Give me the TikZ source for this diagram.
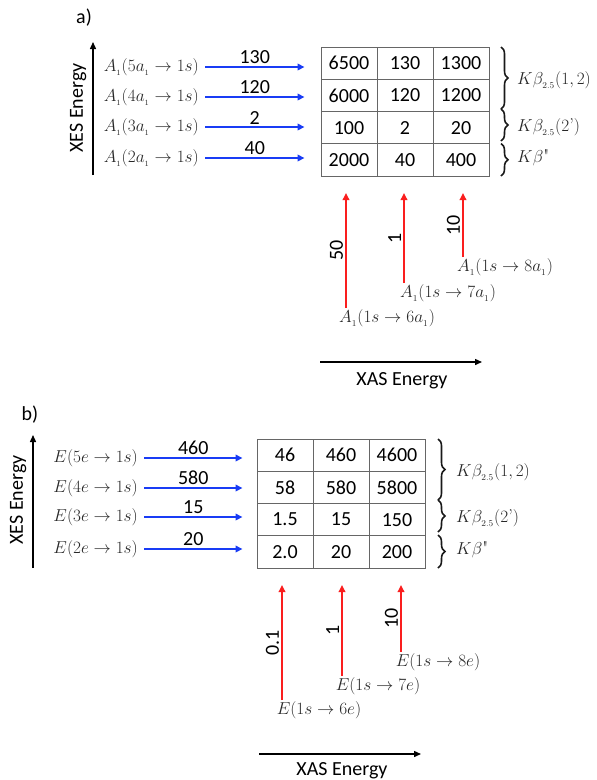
\documentclass[tikz,border=0pt]{standalone}
\usepackage{fontspec}
\setsansfont{Carlito}
\usetikzlibrary{arrows.meta,decorations.pathreplacing}
\definecolor{arrblue}{RGB}{25,60,245}
\definecolor{arrred}{RGB}{250,30,30}
\definecolor{mathgray}{RGB}{40,40,40}
\begin{document}
\begin{tikzpicture}[x=1pt,y=-1pt,
  num/.style={font=\sffamily\fontsize{20}{24}\selectfont, inner sep=2pt},
  cell/.style={draw=black!60, line width=0.9pt, minimum width=56pt, minimum height=32.25pt, inner sep=0pt, font=\sffamily\fontsize{20}{24}\selectfont},
  rowlabA/.style={text=mathgray, inner sep=0pt, anchor=east, font=\fontsize{16.5}{20}\selectfont},
  rowlabB/.style={text=mathgray, inner sep=0pt, anchor=east, font=\fontsize{18}{22}\selectfont},
  srclab/.style={text=mathgray, inner sep=1pt, font=\fontsize{18.5}{22}\selectfont},
  klab/.style={text=mathgray, inner sep=0pt, anchor=west, font=\fontsize{18.5}{22}\selectfont},
  bluearr/.style={draw=arrblue, line width=1.8pt, -{Triangle[length=7pt,width=6.5pt]}},
  redarr/.style={draw=arrred, line width=1.8pt, -{Triangle[length=7pt,width=6.5pt]}},
  axis/.style={draw=black, line width=1.4pt, -{Triangle[length=7pt,width=6pt]}},
  kbrace/.style={draw=black!90, line width=1.6pt, decorate, decoration={brace, amplitude=7pt}},
  axlab/.style={font=\sffamily\fontsize{20}{24}\selectfont, inner sep=0pt},
]
\useasboundingbox (0,0) rectangle (597,780);

% ================= panel a =================
\node[axlab] (pa) at (84,18) {a)};
\coordinate (xesAbot) at (93,175);
\coordinate (xesAtop) at (93,42);
\draw[axis] (xesAbot) -- (xesAtop);
\node[axlab, rotate=90] (xesAlab) at (78,108) {XES Energy};

% table a
\foreach \r/\y in {1/63.1,2/95.4,3/127.6,4/159.9}{
  \foreach \c/\x in {1/349,2/405,3/461}{
    \node[cell] (ta\r\c) at (\x,\y) {};
  }
}
\node[num] at (ta11) {6500}; \node[num] at (ta12) {130}; \node[num] at (ta13) {1300};
\node[num] at (ta21) {6000}; \node[num] at (ta22) {120}; \node[num] at (ta23) {1200};
\node[num] at (ta31) {100};  \node[num] at (ta32) {2};   \node[num] at (ta33) {20};
\node[num] at (ta41) {2000}; \node[num] at (ta42) {40};  \node[num] at (ta43) {400};

% row labels a
\node[rowlabA] (ra1) at (199,67)  {$A_{_1}(5a_{_1}\rightarrow 1s)$};
\node[rowlabA] (ra2) at (199,97)  {$A_{_1}(4a_{_1}\rightarrow 1s)$};
\node[rowlabA] (ra3) at (199,127) {$A_{_1}(3a_{_1}\rightarrow 1s)$};
\node[rowlabA] (ra4) at (199,158) {$A_{_1}(2a_{_1}\rightarrow 1s)$};
\draw[bluearr] ([xshift=6pt]ra1.east) -- ([xshift=-16pt]ra1.east -| ta11.west) node[num, midway, above] {130};
\draw[bluearr] ([xshift=6pt]ra2.east) -- ([xshift=-16pt]ra2.east -| ta21.west) node[num, midway, above] {120};
\draw[bluearr] ([xshift=6pt]ra3.east) -- ([xshift=-16pt]ra3.east -| ta31.west) node[num, midway, above] {2};
\draw[bluearr] ([xshift=6pt]ra4.east) -- ([xshift=-16pt]ra4.east -| ta41.west) node[num, midway, above] {40};

% braces a
\coordinate (ba0) at (501,47);
\coordinate (ba1) at (501,109);
\coordinate (ba2) at (501,141);
\coordinate (ba3) at (501,143.5);
\coordinate (ba4) at (501,176);
\draw[kbrace] (ba0) -- (ba1);
\draw[kbrace] (ba1) -- (ba2);
\draw[kbrace] (ba3) -- (ba4);
\node[klab] (ka1) at (517,80)  {$K\beta_{_{2.5}}(1,2)$};
\node[klab] (ka2) at (517,127) {$K\beta_{_{2.5}}(2\mbox{'})$};
\node[klab] (ka3) at (517,158) {$K\beta$\textquotedbl};

% source labels a
\node[srclab] (sa1) at (387,318) {$A_{_1}(1s\rightarrow 6a_{_1})$};
\node[srclab] (sa2) at (448,293) {$A_{_1}(1s\rightarrow 7a_{_1})$};
\node[srclab] (sa3) at (505,267) {$A_{_1}(1s\rightarrow 8a_{_1})$};
\coordinate (pa1) at (346,193);
\coordinate (pa2) at (404,193);
\coordinate (pa3) at (463,193);
\draw[redarr] (sa1.north -| pa1) -- (pa1) node[num, midway, rotate=90, anchor=south] {50};
\draw[redarr] (sa2.north -| pa2) -- (pa2) node[num, midway, rotate=90, anchor=south] {1};
\draw[redarr] (sa3.north -| pa3) -- (pa3) node[num, midway, rotate=90, anchor=south] {10};

\coordinate (xasAl) at (320,362);
\coordinate (xasAr) at (482,362);
\draw[axis] (xasAl) -- (xasAr);
\node[axlab, anchor=north] (xasAlab) at (402,372) {XAS Energy};

% ================= panel b =================
\node[axlab] (pb) at (30,415) {b)};
\coordinate (xesBbot) at (33,568);
\coordinate (xesBtop) at (33,435);
\draw[axis] (xesBbot) -- (xesBtop);
\node[axlab, rotate=90] (xesBlab) at (18,500) {XES Energy};

% table b
\foreach \r/\y in {1/455.1,2/487.4,3/519.6,4/551.9}{
  \foreach \c/\x in {1/285,2/341,3/397}{
    \node[cell] (tb\r\c) at (\x,\y) {};
  }
}
\node[num] at (tb11) {46};  \node[num] at (tb12) {460}; \node[num] at (tb13) {4600};
\node[num] at (tb21) {58};  \node[num] at (tb22) {580}; \node[num] at (tb23) {5800};
\node[num] at (tb31) {1.5}; \node[num] at (tb32) {15};  \node[num] at (tb33) {150};
\node[num] at (tb41) {2.0}; \node[num] at (tb42) {20};  \node[num] at (tb43) {200};

% row labels b
\node[rowlabB] (rb1) at (138,458) {$E(5e\rightarrow 1s)$};
\node[rowlabB] (rb2) at (138,488) {$E(4e\rightarrow 1s)$};
\node[rowlabB] (rb3) at (138,517) {$E(3e\rightarrow 1s)$};
\node[rowlabB] (rb4) at (138,549) {$E(2e\rightarrow 1s)$};
\draw[bluearr] ([xshift=6pt]rb1.east) -- ([xshift=-14pt]rb1.east -| tb11.west) node[num, midway, above] {460};
\draw[bluearr] ([xshift=6pt]rb2.east) -- ([xshift=-14pt]rb2.east -| tb21.west) node[num, midway, above] {580};
\draw[bluearr] ([xshift=6pt]rb3.east) -- ([xshift=-14pt]rb3.east -| tb31.west) node[num, midway, above] {15};
\draw[bluearr] ([xshift=6pt]rb4.east) -- ([xshift=-14pt]rb4.east -| tb41.west) node[num, midway, above] {20};

% braces b
\coordinate (bb0) at (438,439);
\coordinate (bb1) at (438,500);
\coordinate (bb2) at (438,532);
\coordinate (bb3) at (438,535);
\coordinate (bb4) at (438,568);
\draw[kbrace] (bb0) -- (bb1);
\draw[kbrace] (bb1) -- (bb2);
\draw[kbrace] (bb3) -- (bb4);
\node[klab] (kb1) at (456,472) {$K\beta_{_{2.5}}(1,2)$};
\node[klab] (kb2) at (456,518) {$K\beta_{_{2.5}}(2\mbox{'})$};
\node[klab] (kb3) at (456,550) {$K\beta$\textquotedbl};

% source labels b
\node[srclab] (sb1) at (319,710) {$E(1s\rightarrow 6e)$};
\node[srclab] (sb2) at (378,686) {$E(1s\rightarrow 7e)$};
\node[srclab] (sb3) at (438,662) {$E(1s\rightarrow 8e)$};
\coordinate (pb1) at (282,585);
\coordinate (pb2) at (342,585);
\coordinate (pb3) at (401,585);
\draw[redarr] (sb1.north -| pb1) -- (pb1) node[num, midway, rotate=90, anchor=south] {0.1};
\draw[redarr] (sb2.north -| pb2) -- (pb2) node[num, midway, rotate=90, anchor=south] {1};
\draw[redarr] (sb3.north -| pb3) -- (pb3) node[num, midway, rotate=90, anchor=south] {10};

\coordinate (xasBl) at (259,754);
\coordinate (xasBr) at (421,754);
\draw[axis] (xasBl) -- (xasBr);
\node[axlab, anchor=north] (xasBlab) at (342,762) {XAS Energy};
\end{tikzpicture}
\end{document}
